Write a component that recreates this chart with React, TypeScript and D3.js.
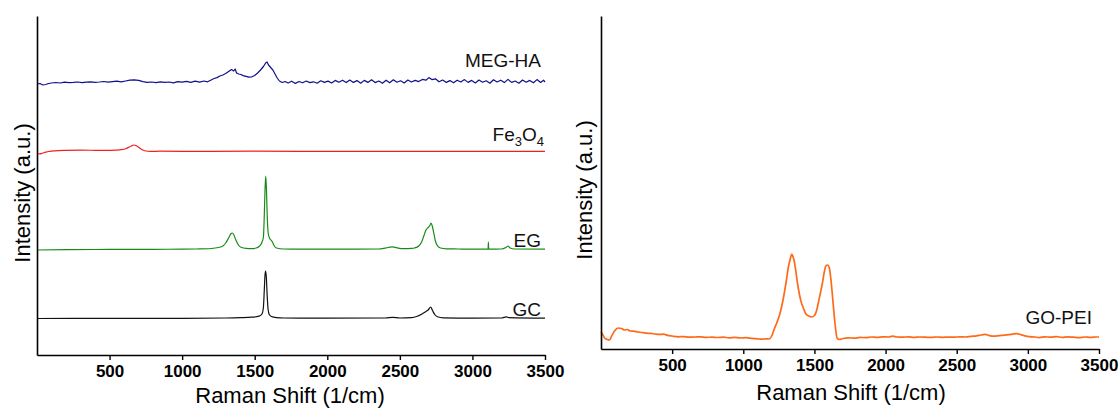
import React, { useEffect, useRef } from "react";
import * as d3 from "d3";

// ---------- data (wavenumber cm^-1, intensity a.u.) ----------
const xTicks = [500, 1000, 1500, 2000, 2500, 3000, 3500];
const xTitle = "Raman Shift (1/cm)";
const yTitle = "Intensity (a.u.)";

const megHA: [number, number][] = [
  [0, 271], [20, 271.5], [40, 270], [60, 270.5], [80, 271.5], [100, 272], [130, 272.5], [160, 272],
  [190, 272.8], [220, 272.3], [250, 272.6], [280, 273], [310, 272.4], [340, 272.8], [370, 273.2],
  [400, 272.6], [430, 273], [460, 273.5], [490, 272.9], [520, 273.4], [550, 273.8], [580, 273.2],
  [610, 274], [640, 274.8], [670, 275.2], [700, 274.6], [730, 273.4], [760, 272.6], [790, 273],
  [820, 272.4], [850, 273.2], [880, 272.6], [910, 273], [940, 272.2], [970, 273.4], [1000, 272.8],
  [1030, 273.6], [1060, 272.6], [1090, 273.8], [1120, 272.8], [1150, 274], [1175, 273.2], [1200, 275],
  [1220, 276.5], [1240, 277.4], [1260, 279], [1280, 280], [1300, 281.5], [1320, 283.5], [1340, 285.5],
  [1355, 284], [1365, 286], [1375, 282], [1390, 281], [1405, 280.5], [1420, 279.4], [1440, 278.6],
  [1460, 277.8], [1480, 278.2], [1500, 279.5], [1520, 282], [1540, 285], [1560, 288.5], [1575, 292],
  [1585, 293], [1595, 290], [1610, 287.5], [1625, 285], [1640, 281], [1655, 277], [1670, 274],
  [1690, 272.5], [1710, 273.5], [1730, 272.0], [1755, 273.8], [1780, 271.6], [1805, 273.5], [1830, 272.2],
  [1855, 274.0], [1880, 272.4], [1905, 273.2], [1930, 271.8], [1955, 274.2], [1980, 272.6], [2005, 273.9],
  [2030, 272.0], [2055, 274.6], [2080, 272.8], [2105, 274.8], [2130, 272.4], [2155, 275.0], [2180, 272.6],
  [2205, 274.4], [2230, 271.8], [2255, 274.6], [2280, 272.6], [2305, 275.2], [2330, 272.4], [2355, 274.0],
  [2380, 271.8], [2405, 274.8], [2430, 272.2], [2455, 275.2], [2480, 272.8], [2505, 274.2], [2530, 272.0],
  [2555, 275.0], [2580, 273.0], [2605, 274.6], [2630, 273.4], [2655, 275.6], [2680, 274.8], [2700, 277.4],
  [2720, 275.4], [2745, 276.2], [2770, 273.2], [2795, 275.0], [2820, 272.6], [2845, 274.4], [2870, 272.2],
  [2895, 274.8], [2920, 273.0], [2945, 275.4], [2970, 272.6], [2995, 274.6], [3020, 272.0], [3045, 275.0],
  [3070, 272.8], [3095, 274.2], [3120, 271.8], [3145, 275.2], [3170, 273.0], [3195, 274.8], [3220, 272.4],
  [3245, 275.6], [3270, 272.6], [3295, 274.0], [3320, 271.8], [3345, 275.0], [3370, 272.8], [3395, 274.6],
  [3420, 272.2], [3445, 275.4], [3470, 272.6], [3490, 274.8], [3500, 273.0],
];

const fe3o4: [number, number][] = [
  [0, 201.5], [20, 201.2], [40, 202], [60, 202.8], [80, 203.5], [120, 204.2], [200, 204.6], [300, 204.8],
  [400, 204.7], [480, 204.6], [540, 204.9], [580, 205.3], [610, 206.2], [630, 207.6], [650, 209],
  [668, 210], [685, 209.2], [705, 207.2], [725, 205.2], [750, 204], [780, 203.6], [850, 203.8],
  [1000, 203.7], [1200, 203.6], [1500, 203.8], [1800, 203.6], [2200, 203.6], [2600, 203.7],
  [3000, 203.6], [3500, 203.6],
];

const eg: [number, number][] = [
  [0, 105], [200, 105.3], [400, 105.5], [600, 105.6], [800, 105.7], [1000, 105.8], [1100, 106],
  [1200, 106.5], [1250, 107.5], [1280, 109], [1300, 112], [1320, 117], [1335, 121], [1345, 122],
  [1355, 120.5], [1370, 115], [1390, 109.5], [1410, 107.5], [1440, 106.6], [1480, 106.4], [1510, 107],
  [1530, 108.5], [1548, 112], [1560, 118], [1566, 140], [1571, 165], [1576, 179], [1581, 165],
  [1586, 140], [1592, 123], [1600, 117.5], [1612, 115], [1622, 113], [1635, 109], [1650, 107],
  [1700, 106], [1800, 105.8], [2000, 105.8], [2200, 105.8], [2350, 106], [2420, 107.5], [2450, 108.2],
  [2480, 107.2], [2530, 106.3], [2580, 106.6], [2600, 107], [2630, 109], [2650, 113], [2665, 119],
  [2680, 125], [2695, 127.5], [2705, 129], [2715, 132], [2725, 128], [2735, 121], [2745, 114],
  [2760, 109], [2780, 107], [2820, 106.2], [2900, 106], [3000, 105.8], [3100, 105.8], [3108, 105.8],
  [3110, 113], [3112, 105.8], [3200, 106], [3230, 107.5], [3245, 109], [3260, 107], [3290, 106],
  [3500, 105.8],
];

const gc: [number, number][] = [
  [0, 36.5], [500, 36.6], [1000, 36.7], [1300, 37], [1400, 37.3], [1480, 37.8], [1530, 38.8],
  [1550, 41], [1560, 48], [1566, 65], [1571, 80], [1575, 84], [1580, 78], [1585, 62], [1592, 46],
  [1600, 40.5], [1615, 38.5], [1650, 37.4], [1700, 37], [2000, 36.8], [2400, 37], [2450, 37.6],
  [2500, 37], [2580, 37.4], [2620, 38.8], [2650, 40.8], [2680, 43.5], [2695, 45], [2712, 48],
  [2725, 44.5], [2740, 40.5], [2760, 38.2], [2800, 37.2], [3000, 36.8], [3200, 37], [3235, 38.2],
  [3250, 37.4], [3500, 36.8],
];

const goPEI: [number, number][] = [
  [0, 17], [10, 15], [25, 11], [45, 9.5], [60, 9], [75, 13], [95, 18], [120, 21], [145, 20.5],
  [165, 19], [185, 19.5], [205, 18], [230, 17.8], [260, 17], [290, 16.5], [320, 15.8], [350, 15.6],
  [380, 15], [410, 14.6], [440, 14.8], [470, 13.6], [500, 13], [540, 12.2], [580, 12.4], [620, 11.8],
  [660, 12], [700, 12.2], [740, 11.6], [780, 11.9], [820, 11.5], [860, 11.8], [900, 11.2], [940, 11.6],
  [980, 11.0], [1020, 11.3], [1060, 10.6], [1100, 10.2], [1130, 9.8], [1160, 10.2], [1180, 10],
  [1200, 13], [1215, 19], [1235, 26], [1255, 34], [1278, 48], [1300, 66], [1317, 82], [1330, 90],
  [1341, 95], [1350, 92], [1358, 88], [1367, 80], [1385, 62], [1405, 48], [1425, 40], [1440, 35],
  [1460, 33], [1480, 32], [1500, 33.5], [1518, 40], [1530, 48], [1545, 58], [1555, 65], [1568, 76],
  [1580, 83], [1592, 84], [1605, 81], [1617, 68], [1630, 48], [1645, 25], [1659, 11], [1675, 9.5],
  [1700, 10.5], [1740, 11.2], [1780, 10.8], [1820, 11.6], [1860, 11.4], [1900, 12.0], [1940, 11.6],
  [1980, 12.2], [2020, 12.0], [2050, 12.8], [2080, 12.0], [2120, 11.8], [2160, 12.2], [2200, 11.6],
  [2240, 12.0], [2280, 11.8], [2320, 11.6], [2360, 12.0], [2400, 11.7], [2440, 11.9], [2480, 11.8],
  [2520, 12.2], [2560, 12.0], [2600, 12.6], [2640, 13.2], [2670, 14.0], [2700, 14.6], [2730, 13.4],
  [2760, 12.8], [2800, 13.4], [2840, 13.8], [2880, 14.6], [2920, 15.4], [2950, 14.4], [2980, 13.2],
  [3010, 12.4], [3050, 12.0], [3080, 11.4], [3120, 12.2], [3160, 11.8], [3200, 12.4], [3240, 11.6],
  [3280, 12.2], [3320, 11.8], [3360, 11.4], [3400, 12.0], [3440, 11.6], [3480, 12.0], [3500, 12.0],
];

const leftSeries = [
  { name: "MEG-HA", data: megHA, color: "#10108a", label: [541, 67], linear: true },
  { name: "Fe3O4", data: fe3o4, color: "#f02020", label: [544, 141], linear: false },
  { name: "EG", data: eg, color: "#168c16", label: [541, 247], linear: false },
  { name: "GC", data: gc, color: "#111111", label: [541, 316], linear: false },
];

const FONT = "'Liberation Sans', Arial, Helvetica, sans-serif";

export default function App() {
  const ref = useRef<SVGSVGElement | null>(null);

  useEffect(() => {
    const svg = d3.select(ref.current);
    svg.selectAll("*").remove();

    const panels = [
      { x0: 37, x1: 545, yTop: 16, yBot: 355, ymax: 339, series: leftSeries, lw: 1.2,
        xTitleX: 290, xTitleY: 403, yTitleX: 30, yTitleY: 193 },
      { x0: 601, x1: 1099, yTop: 16, yBot: 349, ymax: 333,
        series: [{ name: "GO-PEI", data: goPEI, color: "#ff6a18", label: [1092, 324], linear: false }], lw: 1.7,
        xTitleX: 851, xTitleY: 400, yTitleX: 592, yTitleY: 190 },
    ];

    panels.forEach((p) => {
      const x = d3.scaleLinear().domain([0, 3500]).range([p.x0, p.x1]);
      const y = d3.scaleLinear().domain([0, p.ymax]).range([p.yBot, p.yTop]);
      const g = svg.append("g");

      p.series.forEach((s) => {
        const line = d3.line<[number, number]>()
          .x((d) => x(d[0]))
          .y((d) => y(d[1]))
          .curve(s.linear ? d3.curveLinear : d3.curveMonotoneX);

        g.append("path")
          .attr("d", line(s.data) as string)
          .attr("fill", "none")
          .attr("stroke", s.color)
          .attr("stroke-width", p.lw)
          .attr("stroke-linejoin", "round");

        const t = g.append("text")
          .attr("x", s.label[0])
          .attr("y", s.label[1])
          .attr("text-anchor", "end")
          .attr("font-family", FONT)
          .attr("font-size", 19)
          .attr("fill", "#111");
        if (s.name === "Fe3O4") {
          t.append("tspan").text("Fe");
          t.append("tspan").attr("dy", 5).attr("font-size", 13).text("3");
          t.append("tspan").attr("dy", -5).text("O");
          t.append("tspan").attr("dy", 5).attr("font-size", 13).text("4");
        } else {
          t.text(s.name);
        }
      });

      // x axis
      const xa = g.append("g")
        .attr("transform", `translate(0,${p.yBot})`)
        .call(d3.axisBottom(x).tickValues(xTicks).tickSize(5).tickSizeOuter(0).tickPadding(5).tickFormat(d3.format("d")));
      xa.select(".domain").attr("stroke", "#000").attr("stroke-width", 1.6);
      xa.selectAll(".tick line").attr("stroke", "#000").attr("stroke-width", 1.4);
      xa.selectAll(".tick text")
        .attr("font-family", FONT)
        .attr("font-size", 17)
        .attr("font-weight", "bold")
        .attr("fill", "#000");

      // y axis (no ticks)
      const ya = g.append("g")
        .attr("transform", `translate(${p.x0},0)`)
        .call(d3.axisLeft(y).tickValues([]).tickSizeOuter(0));
      ya.select(".domain").attr("stroke", "#000").attr("stroke-width", 1.6);

      g.append("text")
        .attr("x", p.xTitleX)
        .attr("y", p.xTitleY)
        .attr("text-anchor", "middle")
        .attr("font-family", FONT)
        .attr("font-size", 22)
        .attr("fill", "#000")
        .text(xTitle);

      g.append("text")
        .attr("transform", `translate(${p.yTitleX},${p.yTitleY}) rotate(-90)`)
        .attr("text-anchor", "middle")
        .attr("font-family", FONT)
        .attr("font-size", 22)
        .attr("fill", "#000")
        .text(yTitle);
    });
  }, []);

  return (
    <svg
      ref={ref}
      width={1118}
      height={410}
      style={{ position: "absolute", left: 0, top: 0, display: "block", background: "#fff" }}
    />
  );
}
